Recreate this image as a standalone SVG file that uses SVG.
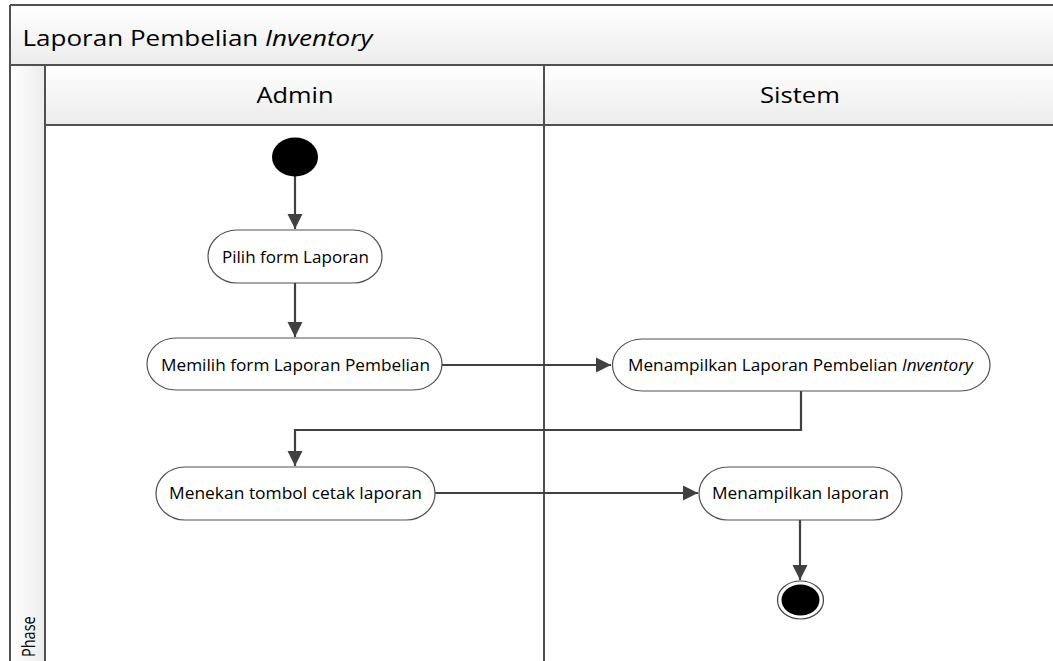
<svg xmlns="http://www.w3.org/2000/svg" width="1053" height="661" viewBox="0 0 1053 661">
  <style>
    .frame { fill: none; stroke: #505050; stroke-width: 2; }
    .txt { font-family: "Open Sans", "Noto Sans", sans-serif; fill: #000; }
    .lbl { font-size: 15.5px; }
    .pill { fill: #fff; stroke: #505050; stroke-width: 1.2; }
    .flow { fill: none; stroke: #404040; stroke-width: 2.2; }
  </style>
  <defs>
    <linearGradient id="hdr" x1="0" y1="0" x2="0" y2="1">
      <stop offset="0" stop-color="#ffffff"/>
      <stop offset="1" stop-color="#ececec"/>
    </linearGradient>
    <linearGradient id="side" x1="0" y1="0" x2="1" y2="0">
      <stop offset="0" stop-color="#ffffff"/>
      <stop offset="1" stop-color="#ececec"/>
    </linearGradient>
    <marker id="arrow" viewBox="0 0 10 10" refX="10" refY="5" markerWidth="7" markerHeight="7" markerUnits="strokeWidth" orient="auto">
      <path d="M0,0 L10,5 L0,10 Z" fill="#404040"/>
    </marker>
  </defs>

  <rect width="1053" height="661" fill="#fff"/>

  <!-- pool frame, title bar, lane headers -->
  <g id="pool">
    <rect x="10" y="5" width="1060" height="60" fill="url(#hdr)"/>
    <rect x="10" y="65" width="35" height="600" fill="url(#side)"/>
    <rect x="45" y="65" width="1020" height="60" fill="url(#hdr)"/>
    <line class="frame" x1="10" y1="5" x2="1060" y2="5"/>
    <line class="frame" x1="10" y1="5" x2="10" y2="665"/>
    <line class="frame" x1="10" y1="65" x2="1060" y2="65"/>
    <line class="frame" x1="45" y1="65" x2="45" y2="665"/>
    <line class="frame" x1="45" y1="125" x2="1060" y2="125"/>
    <line class="frame" x1="544" y1="65" x2="544" y2="665"/>
    <text class="txt" x="22.5" y="46" font-size="22" textLength="350" lengthAdjust="spacingAndGlyphs">Laporan Pembelian <tspan font-style="italic">Inventory</tspan></text>
    <text class="txt" x="256.5" y="103" font-size="21" textLength="77" lengthAdjust="spacingAndGlyphs">Admin</text>
    <text class="txt" x="760" y="103" font-size="21" textLength="80" lengthAdjust="spacingAndGlyphs">Sistem</text>
    <text class="txt" font-size="14.5" transform="translate(35,657) scale(1.2,1) rotate(-90)">Phase</text>
  </g>

  <!-- connectors -->
  <g id="connectors">
    <line class="flow" x1="295" y1="176" x2="295" y2="229" marker-end="url(#arrow)"/>
    <line class="flow" x1="295" y1="283" x2="295" y2="337" marker-end="url(#arrow)"/>
    <line class="flow" x1="442" y1="365" x2="611" y2="365" marker-end="url(#arrow)"/>
    <polyline class="flow" points="801,391 801,430 295,430 295,466" marker-end="url(#arrow)"/>
    <line class="flow" x1="435" y1="493" x2="698" y2="493" marker-end="url(#arrow)"/>
    <line class="flow" x1="800" y1="520" x2="800" y2="580" marker-end="url(#arrow)"/>
  </g>

  <!-- start -->
  <g id="start">
    <ellipse cx="295" cy="157" rx="23" ry="19.5" fill="#000"/>
  </g>

  <g id="pilih-form">
    <rect class="pill" x="208" y="230" width="174" height="53" rx="29" ry="26.5"/>
    <text class="txt lbl" x="222" y="262.5" textLength="147" lengthAdjust="spacingAndGlyphs">Pilih form Laporan</text>
  </g>

  <g id="memilih-form">
    <rect class="pill" x="147" y="338" width="295" height="52" rx="29" ry="26"/>
    <text class="txt lbl" x="161" y="371" textLength="269" lengthAdjust="spacingAndGlyphs">Memilih form Laporan Pembelian</text>
  </g>

  <g id="tampil-laporan-pembelian">
    <rect class="pill" x="612.5" y="339" width="377.5" height="52" rx="30" ry="26"/>
    <text class="txt lbl" x="628" y="371" textLength="345" lengthAdjust="spacingAndGlyphs">Menampilkan Laporan Pembelian <tspan font-style="italic">Inventory</tspan></text>
  </g>

  <g id="cetak-laporan">
    <rect class="pill" x="156" y="467" width="279" height="53" rx="29" ry="26.5"/>
    <text class="txt lbl" x="169" y="499" textLength="253" lengthAdjust="spacingAndGlyphs">Menekan tombol cetak laporan</text>
  </g>

  <g id="tampil-laporan">
    <rect class="pill" x="699" y="467" width="203" height="53" rx="29" ry="26.5"/>
    <text class="txt lbl" x="712" y="499" textLength="177" lengthAdjust="spacingAndGlyphs">Menampilkan laporan</text>
  </g>

  <!-- end -->
  <g id="end">
    <ellipse cx="800.5" cy="600" rx="23" ry="19" fill="#fff" stroke="#404040" stroke-width="1.2"/>
    <ellipse cx="800.5" cy="600" rx="19" ry="15.5" fill="#000"/>
  </g>
</svg>
